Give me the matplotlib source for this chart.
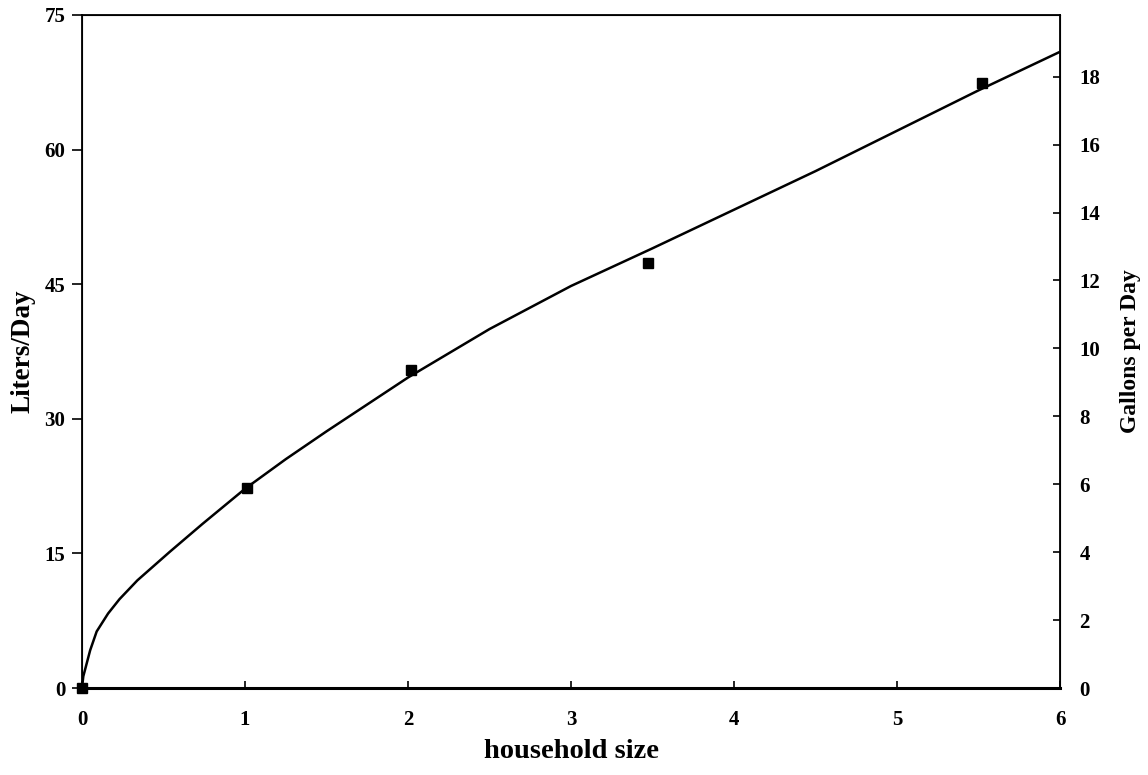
import matplotlib
matplotlib.use("Agg")
import matplotlib.pyplot as plt

# Observed data points (household size, liters/day)
household_size = [0.0, 1.01, 2.02, 3.47, 5.52]
liters_per_day = [0.0, 22.3, 35.4, 47.4, 67.4]

# Trend curve
curve_x = [0.0, 0.008, 0.05, 0.09, 0.16, 0.23, 0.34, 0.54, 0.74, 1.0, 1.25,
           1.5, 2.0, 2.5, 3.0, 3.5, 4.0, 4.5, 5.0, 5.5, 6.0]
curve_y = [0.0, 1.3, 4.2, 6.3, 8.3, 9.9, 12.0, 15.2, 18.3, 22.2, 25.5,
           28.6, 34.6, 40.0, 44.8, 49.0, 53.3, 57.6, 62.1, 66.6, 70.9]

x_ticks = [0, 1, 2, 3, 4, 5, 6]
y_ticks = [0, 15, 30, 45, 60, 75]
gal_ticks = [0, 2, 4, 6, 8, 10, 12, 14, 16, 18]
LITERS_PER_GALLON = 3.785

plt.rcParams['font.family'] = ['Liberation Serif', 'DejaVu Serif']
plt.rcParams['font.weight'] = 'bold'

fig = plt.figure(figsize=(11.48, 7.75), dpi=100)
ax = fig.add_axes([82/1148, 1-688/775, (1060-82)/1148, (688-15)/775])

ax.plot(curve_x, curve_y, color='black', lw=1.8, solid_joinstyle='round')
ax.plot(household_size, liters_per_day, linestyle='none', marker='s',
        color='black', markersize=7, clip_on=False, zorder=5)

ax.set_xlim(0, 6)
ax.set_ylim(0, 75)
ax.set_xticks(x_ticks)
ax.set_yticks(y_ticks)
ax.tick_params(axis='x', direction='in', length=5, width=1.2, pad=16,
               labelsize=15)
ax.tick_params(axis='y', direction='out', length=7, width=1.2, pad=5,
               labelsize=15)
for lab in ax.get_xticklabels() + ax.get_yticklabels():
    lab.set_fontweight('bold')
for s in ax.spines.values():
    s.set_linewidth(1.3)
ax.spines['bottom'].set_linewidth(2.2)

ax.set_xlabel('household size', fontsize=20.5, fontweight='bold')
ax.xaxis.set_label_coords(0.5, -0.076)
ax.set_ylabel('Liters/Day', fontsize=19.5, fontweight='bold')
ax.yaxis.set_label_coords(-0.048, 0.5)

ax2 = ax.twinx()
ax2.set_ylim(0, 75 / LITERS_PER_GALLON)
ax2.set_yticks(gal_ticks)
ax2.tick_params(axis='y', direction='in', length=5, width=1.2, pad=14,
                labelsize=15)
for lab in ax2.get_yticklabels():
    lab.set_fontweight('bold')
ax2.set_ylabel('Gallons per Day', fontsize=17, fontweight='bold')
ax2.yaxis.set_label_coords(1.0613, 0.5)

fig.savefig('out.png', dpi=100)
